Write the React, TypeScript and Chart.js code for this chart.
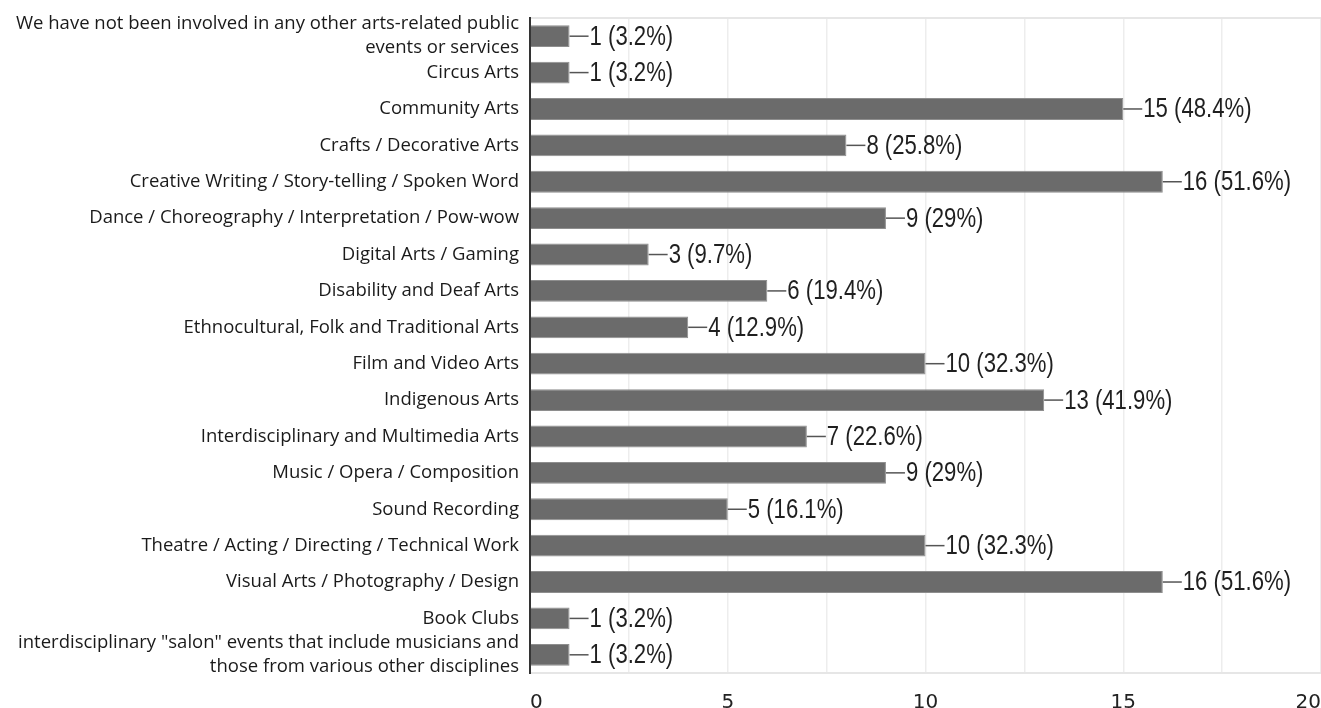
import { useEffect, useRef } from "react";
import { Chart, registerables } from "chart.js";

Chart.register(...registerables);

// Art forms the respondents were involved in (one bar per category)
const categories: (string | string[])[] = [
  ["We have not been involved in any other arts-related public", "events or services"],
  "Circus Arts",
  "Community Arts",
  "Crafts / Decorative Arts",
  "Creative Writing / Story-telling / Spoken Word",
  "Dance / Choreography / Interpretation / Pow-wow",
  "Digital Arts / Gaming",
  "Disability and Deaf Arts",
  "Ethnocultural, Folk and Traditional Arts",
  "Film and Video Arts",
  "Indigenous Arts",
  "Interdisciplinary and Multimedia Arts",
  "Music / Opera / Composition",
  "Sound Recording",
  "Theatre / Acting / Directing / Technical Work",
  "Visual Arts / Photography / Design",
  "Book Clubs",
  ["interdisciplinary \"salon\" events that include musicians and", "those from various other disciplines"],
];

const counts = [1, 1, 15, 8, 16, 9, 3, 6, 4, 10, 13, 7, 9, 5, 10, 16, 1, 1];

const percents = [
  "3.2", "3.2", "48.4", "25.8", "51.6", "29", "9.7", "19.4", "12.9",
  "32.3", "41.9", "22.6", "29", "16.1", "32.3", "51.6", "3.2", "3.2",
];

const xMin = 0;
const xMax = 20;
const gridStep = 2.5;
const labelStep = 5;

// Leader line + "count (pct%)" text at the end of each bar, in a narrowed face
const valueLabels = {
  id: "valueLabels",
  afterDatasetsDraw(chart: any) {
    const ctx = chart.ctx as CanvasRenderingContext2D;
    const meta = chart.getDatasetMeta(0);
    meta.data.forEach((bar: any, i: number) => {
      const x = bar.x;
      const y = bar.y;
      ctx.save();
      ctx.strokeStyle = "#555";
      ctx.lineWidth = 1.5;
      ctx.beginPath();
      ctx.moveTo(x, y);
      ctx.lineTo(x + 19, y);
      ctx.stroke();
      ctx.translate(x + 20, y + 1);
      ctx.scale(0.82, 1);
      ctx.fillStyle = "#1f1f1f";
      ctx.font = '27px "Liberation Sans", Arial, sans-serif';
      ctx.textAlign = "left";
      ctx.textBaseline = "middle";
      ctx.fillText(`${counts[i]} (${percents[i]}%)`, 0, 0);
      ctx.restore();
    });
  },
};

export default function App() {
  const canvasRef = useRef<HTMLCanvasElement | null>(null);

  useEffect(() => {
    if (!canvasRef.current) return;
    const chart = new Chart(canvasRef.current, {
      type: "bar",
      data: {
        labels: categories,
        datasets: [
          {
            data: counts,
            backgroundColor: "#6b6b6b",
            borderColor: "#8e8e8e",
            borderWidth: 1,
            barPercentage: 0.6,
            categoryPercentage: 1,
          },
        ],
      },
      options: {
        indexAxis: "y",
        animation: false,
        responsive: true,
        maintainAspectRatio: false,
        layout: { padding: 0 },
        plugins: {
          legend: { display: false },
          tooltip: { enabled: false },
        },
        scales: {
          x: {
            type: "linear",
            position: "bottom",
            min: xMin,
            max: xMax,
            ticks: {
              stepSize: gridStep,
              autoSkip: false,
              maxRotation: 0,
              align: "inner",
              padding: 18,
              color: "#222",
              font: { family: '"DejaVu Sans", sans-serif', size: 20 },
              callback: (v: any) => (Number(v) % labelStep === 0 ? String(v) : ""),
            },
            grid: { color: "#ededed", lineWidth: 1.5, drawTicks: false },
            border: { color: "#e6e6e6", width: 2 },
            afterFit: (s: any) => {
              s.height = 35;
              s.paddingLeft = 0;
              s.paddingRight = 0;
            },
          },
          xTop: {
            type: "linear",
            position: "top",
            min: xMin,
            max: xMax,
            ticks: { display: false },
            grid: { display: false, drawTicks: false },
            border: { color: "#e6e6e6", width: 2 },
            afterFit: (s: any) => {
              s.height = 18;
            },
          },
          y: {
            type: "category",
            ticks: {
              autoSkip: false,
              padding: 11,
              color: "#1a1a1a",
              font: { family: '"Open Sans", sans-serif', size: 18.5, lineHeight: 1.3 },
            },
            grid: { display: false, drawTicks: false },
            border: { color: "#333", width: 2 },
            afterFit: (s: any) => {
              s.width = 530;
              s.paddingTop = 0;
              s.paddingBottom = 0;
            },
          },
        },
      },
      plugins: [valueLabels],
    } as any);
    return () => chart.destroy();
  }, []);

  return (
    <div style={{ position: "fixed", left: 0, top: 0, width: 1321, height: 708, background: "#fff" }}>
      <canvas ref={canvasRef} />
    </div>
  );
}
